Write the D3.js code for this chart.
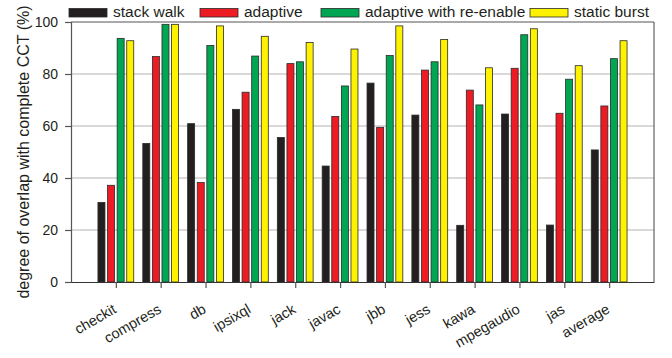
<!DOCTYPE html>
<html>
<head>
<meta charset="utf-8">
<script src="https://cdn.jsdelivr.net/npm/d3@7/dist/d3.min.js"></script>
<style>
  html, body { margin: 0; padding: 0; background: #fff; }
  svg { display: block; font-family: "Liberation Sans", Arial, Helvetica, sans-serif; }
</style>
</head>
<body>
<svg id="chart" width="672" height="358"></svg>
<script>
const categories = ["checkit", "compress", "db", "ipsixql", "jack", "javac", "jbb", "jess", "kawa", "mpegaudio", "jas", "average"];
const seriesNames = ["stack walk", "adaptive", "adaptive with re-enable", "static burst"];
const stackWalk = [30.6, 53.3, 60.9, 66.4, 55.6, 44.6, 76.5, 64.2, 21.8, 64.6, 21.9, 50.8];
const adaptive = [37.2, 86.7, 38.3, 73.0, 84.0, 63.7, 59.5, 81.5, 73.8, 82.2, 64.9, 67.7];
const adaptiveReenable = [93.7, 99.1, 91.0, 86.9, 84.7, 75.4, 87.1, 84.7, 68.1, 95.1, 78.0, 85.9];
const staticBurst = [92.8, 99.1, 98.5, 94.5, 92.1, 89.6, 98.5, 93.3, 82.4, 97.4, 83.2, 92.8];
const yTicks = [0, 20, 40, 60, 80, 100];
const yLabel = "degree of overlap with complete CCT (%)";

const seriesValues = [stackWalk, adaptive, adaptiveReenable, staticBurst];
const colors = ["#231f20", "#ed1c24", "#00a651", "#fff200"];

const svg = d3.select("#chart");
const m = { left: 71, top: 22, right: 18, bottom: 76 };
const W = 672, H = 358;
const iw = W - m.left - m.right, ih = H - m.top - m.bottom;
const g = svg.append("g").attr("transform", `translate(${m.left},${m.top})`);

const x = d3.scalePoint().domain(categories).range([0, iw]).padding(1);
const x1 = d3.scaleBand().domain(seriesNames).range([-17.9, 17.9]).paddingInner(0.27);
const y = d3.scaleLinear().domain([0, 100]).range([ih, 0]);

// grid lines
g.selectAll(".grid").data(yTicks.filter(t => t > 0 && t < 100)).enter().append("line")
  .attr("x1", 0).attr("x2", iw)
  .attr("y1", d => y(d)).attr("y2", d => y(d))
  .attr("stroke", "#cfcbcb").attr("stroke-width", 1.3);

// frame top & right
g.append("line").attr("x1", 0).attr("x2", iw).attr("y1", y(100)).attr("y2", y(100))
  .attr("stroke", "#8c8c8c").attr("stroke-width", 1.5);
g.append("line").attr("x1", iw).attr("x2", iw).attr("y1", y(100)).attr("y2", ih)
  .attr("stroke", "#444").attr("stroke-width", 1);

// bars
const groups = g.selectAll(".grp").data(categories).enter().append("g")
  .attr("transform", d => `translate(${x(d)},0)`);
groups.selectAll("rect").data((d, i) => seriesNames.map((s, k) => ({ s, k, v: seriesValues[k][i] })))
  .enter().append("rect")
  .attr("x", d => x1(d.s))
  .attr("width", x1.bandwidth())
  .attr("y", d => y(d.v))
  .attr("height", d => ih - y(d.v))
  .attr("fill", d => colors[d.k])
  .attr("stroke", "#2a2a2a").attr("stroke-width", 0.8);

// y axis
const yAxis = g.append("g").call(d3.axisLeft(y).tickValues(yTicks).tickSize(6).tickPadding(7));
yAxis.select(".domain").attr("stroke", "#555").attr("stroke-width", 1.2);
yAxis.selectAll(".tick line").attr("stroke", "#555").attr("stroke-width", 1.2);
yAxis.selectAll(".tick text").attr("font-size", 14).attr("fill", "#231f20")
  .attr("font-family", "Liberation Sans, Arial, sans-serif");

// x axis
const xAxis = g.append("g").attr("transform", `translate(0,${ih})`)
  .call(d3.axisBottom(x).tickSize(6).tickSizeOuter(0));
xAxis.select(".domain").attr("stroke", "#333").attr("stroke-width", 1.2);
xAxis.selectAll(".tick line").attr("stroke", "#555").attr("stroke-width", 1.2);
xAxis.selectAll(".tick text")
  .attr("font-size", 14.5).attr("fill", "#231f20")
  .attr("font-family", "Liberation Sans, Arial, sans-serif")
  .attr("text-anchor", "end")
  .attr("dy", null).attr("y", 0)
  .attr("transform", "translate(1,30) rotate(-30)");

// y label
svg.append("text")
  .attr("transform", `translate(29,${m.top + ih / 2}) rotate(-90)`)
  .attr("text-anchor", "middle")
  .attr("font-size", 16).attr("fill", "#231f20")
  .text(yLabel);

// legend
const legendX = [69, 200, 321, 530];
const leg = svg.selectAll(".leg").data(seriesNames).enter().append("g")
  .attr("transform", (d, i) => `translate(${legendX[i]},0)`);
leg.append("rect").attr("x", 0).attr("y", 8.5).attr("width", 38).attr("height", 8.5)
  .attr("fill", (d, i) => colors[i]).attr("stroke", "#2a2a2a").attr("stroke-width", 0.8);
leg.append("text").attr("x", 44).attr("y", 17).attr("font-size", 15.5).attr("fill", "#231f20")
  .text(d => d);
</script>
</body>
</html>
